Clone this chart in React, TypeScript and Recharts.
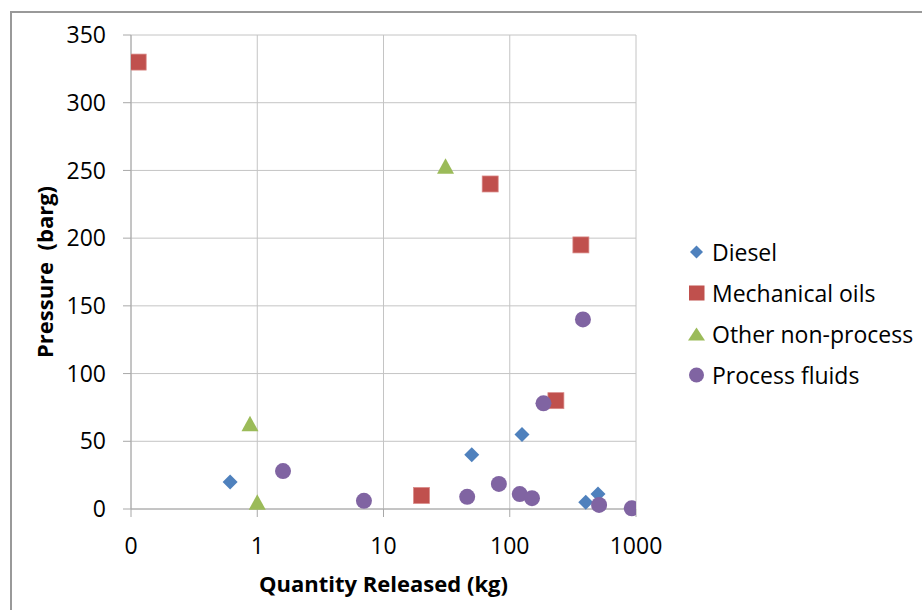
import React from 'react';
import { ScatterChart, Scatter, XAxis, YAxis, CartesianGrid, Legend, Label } from 'recharts';

// ---- data ----
const dieselQty = [0.61, 50, 125, 400, 500];
const dieselPressure = [20, 40, 55, 5, 11];

const mechQty = [0.114, 70, 366, 232, 20];
const mechPressure = [330, 240, 195, 80, 10];

const otherQty = [31, 0.876, 1.0];
const otherPressure = [253, 63, 5];

const processQty = [1.6, 7, 46, 82, 120, 150, 185, 380, 510, 925];
const processPressure = [28, 6, 9, 18.5, 11, 8, 78, 140, 3, 0.5];

const xTicks = [0.1, 1, 10, 100, 1000];
const yTicks = [0, 50, 100, 150, 200, 250, 300, 350];

const seriesNames = ['Diesel', 'Mechanical oils', 'Other non-process', 'Process fluids'];
const seriesColors = ['#4F81BD', '#C0504D', '#9BBB59', '#8064A2'];
const seriesShapes = ['diamond', 'square', 'triangle', 'circle'];

const toPoints = (xs: number[], ys: number[]) => xs.map((x, i) => ({ x, y: ys[i] }));

const dieselData = toPoints(dieselQty, dieselPressure);
const mechData = toPoints(mechQty, mechPressure);
const otherData = toPoints(otherQty, otherPressure);
const processData = toPoints(processQty, processPressure);

const FONT = '"Open Sans", "Noto Sans", sans-serif';
const GRID = '#c4c4c4';
const AXIS = '#a8a8a8';

const makeShape = (kind: string, color: string) => (props: any) => {
  const { cx, cy } = props;
  if (cx == null || cy == null) return <g />;
  if (kind === 'diamond') {
    const r = 7.5;
    return <path d={`M${cx},${cy - r}L${cx + r},${cy}L${cx},${cy + r}L${cx - r},${cy}Z`} fill={color} />;
  }
  if (kind === 'square') {
    return <rect x={cx - 8} y={cy - 8} width={16} height={16} fill={color} stroke="#d98a88" strokeWidth={0.75} />;
  }
  if (kind === 'triangle') {
    return <path d={`M${cx},${cy - 8}L${cx + 8.5},${cy + 7.5}L${cx - 8.5},${cy + 7.5}Z`} fill={color} />;
  }
  return <circle cx={cx} cy={cy} r={8} fill={color} />;
};

const LegendIcon = ({ kind, color }: { kind: string; color: string }) => (
  <svg width={17} height={16} style={{ display: 'block', flex: '0 0 17px' }}>
    {kind === 'diamond' && <path d="M8.5,1.5L15,8L8.5,14.5L2,8Z" fill={color} />}
    {kind === 'square' && <rect x={1} y={0.5} width={15.5} height={15} fill={color} />}
    {kind === 'triangle' && <path d="M8.5,1.5L17,14.5L0,14.5Z" fill={color} />}
    {kind === 'circle' && <circle cx={8.5} cy={8} r={7.5} fill={color} />}
  </svg>
);

const renderLegend = () => (
  <div style={{ fontFamily: FONT, fontSize: 23, color: '#000' }}>
    {seriesNames.map((name, i) => (
      <div key={name} style={{ display: 'flex', alignItems: 'center', height: 41, whiteSpace: 'nowrap' }}>
        <LegendIcon kind={seriesShapes[i]} color={seriesColors[i]} />
        <span style={{ marginLeft: 7 }}>{name}</span>
      </div>
    ))}
  </div>
);

const xTickFormat = (v: number) => (v < 1 ? '0' : String(v));

export default function App() {
  return (
    <div style={{ position: 'absolute', left: 0, top: 0, width: 922, height: 610, background: '#fff', overflow: 'hidden' }}>
      <div
        style={{
          position: 'absolute',
          left: 10,
          top: 11,
          width: 2000,
          height: 2000,
          borderTop: '2px solid #999',
          borderLeft: '2px solid #999',
        }}
      />
      <div style={{ position: 'absolute', left: 0, top: 0 }}>
        <ScatterChart width={922} height={610} margin={{ top: 35, right: 286, bottom: 41, left: 51 }}>
          <CartesianGrid stroke={GRID} strokeWidth={1} />
          <XAxis
            type="number"
            dataKey="x"
            scale="log"
            domain={[0.1, 1000]}
            ticks={xTicks}
            tickFormatter={xTickFormat}
            allowDataOverflow
            height={60}
            stroke={AXIS}
            tickSize={8}
            tickMargin={21}
            tick={{ fill: '#000', fontSize: 23, fontFamily: FONT }}
          >
            <Label
              content={(p: any) => {
                const vb = p.viewBox || {};
                return (
                  <text
                    x={vb.x + vb.width / 2}
                    y={592}
                    textAnchor="middle"
                    fontFamily={FONT}
                    fontWeight="bold"
                    fontSize={22}
                    fill="#000"
                  >
                    Quantity Released (kg)
                  </text>
                );
              }}
            />
          </XAxis>
          <YAxis
            type="number"
            dataKey="y"
            domain={[0, 350]}
            ticks={yTicks}
            width={80}
            stroke={AXIS}
            tickSize={8}
            tickMargin={17}
            tick={{ fill: '#000', fontSize: 23, fontFamily: FONT }}
          >
            <Label
              content={(p: any) => {
                const vb = p.viewBox || {};
                const cy = vb.y + vb.height / 2;
                return (
                  <text
                    x={53}
                    y={cy}
                    transform={`rotate(-90, 53, ${cy})`}
                    textAnchor="middle"
                    fontFamily={FONT}
                    fontWeight="bold"
                    fontSize={22}
                    fill="#000"
                    style={{ whiteSpace: 'pre' }}
                  >
                    {'Pressure  (barg)'}
                  </text>
                );
              }}
            />
          </YAxis>
          <Legend
            content={renderLegend}
            layout="vertical"
            verticalAlign="middle"
            align="center"
            wrapperStyle={{ left: 688, top: 231, width: 240 }}
          />
          <Scatter name={seriesNames[0]} data={dieselData} fill={seriesColors[0]} shape={makeShape('diamond', seriesColors[0])} isAnimationActive={false} />
          <Scatter name={seriesNames[1]} data={mechData} fill={seriesColors[1]} shape={makeShape('square', seriesColors[1])} isAnimationActive={false} />
          <Scatter name={seriesNames[2]} data={otherData} fill={seriesColors[2]} shape={makeShape('triangle', seriesColors[2])} isAnimationActive={false} />
          <Scatter name={seriesNames[3]} data={processData} fill={seriesColors[3]} shape={makeShape('circle', seriesColors[3])} isAnimationActive={false} />
        </ScatterChart>
      </div>
    </div>
  );
}
